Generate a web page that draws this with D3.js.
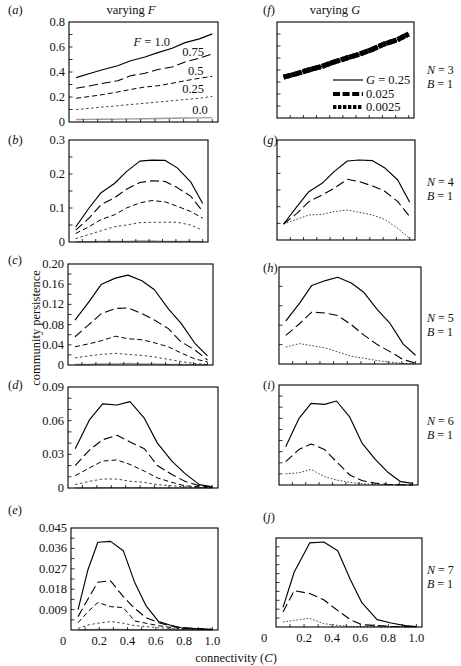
<!DOCTYPE html>
<html><head><meta charset="utf-8">
<script src="https://cdn.jsdelivr.net/npm/d3@7/dist/d3.min.js"></script>
<style>
body{margin:0;background:#fff}
text{font-family:"Liberation Serif","Times New Roman",serif;fill:#111}
</style>
</head><body>
<svg id="chart" width="461" height="666"></svg>
<script>
// ---------------- DATA ----------------
// connectivity values (C) at which persistence was computed
const cN3 = [0.05,0.15,0.24,0.34,0.43,0.53,0.62,0.72,0.81,0.91,1.0];
const cN4 = [0.05,0.15,0.24,0.34,0.43,0.53,0.62,0.72,0.81,0.91,1.0];
const cN5 = [0.05,0.15,0.24,0.34,0.43,0.53,0.62,0.72,0.81,0.91,1.0];
const cN6 = [0.05,0.15,0.24,0.34,0.43,0.53,0.62,0.72,0.81,0.91,1.0];
const cN7e = [0.05,0.12,0.19,0.28,0.37,0.45,0.53,0.62,0.70,0.78,1.0];
const cN7j = [0.05,0.13,0.24,0.34,0.44,0.53,0.61,0.72,0.82,0.92,1.0];

// left column: varying F  (F = 1.0, 0.75, 0.5, 0.25, 0.0)
const a_F100 = [0.355,0.39,0.42,0.45,0.49,0.52,0.555,0.59,0.635,0.665,0.705];
const a_F075 = [0.27,0.29,0.31,0.33,0.37,0.39,0.42,0.44,0.48,0.51,0.545];
const a_F050 = [0.19,0.205,0.22,0.24,0.26,0.28,0.29,0.31,0.33,0.35,0.365];
const a_F025 = [0.10,0.11,0.12,0.13,0.14,0.15,0.16,0.17,0.18,0.19,0.205];
const a_F000 = [0.02,0.021,0.022,0.023,0.025,0.026,0.028,0.03,0.032,0.033,0.035];

const b_F100 = [0.044,0.1,0.145,0.172,0.207,0.238,0.241,0.24,0.218,0.177,0.113];
const b_F075 = [0.035,0.07,0.11,0.13,0.155,0.175,0.18,0.178,0.16,0.135,0.09];
const b_F050 = [0.025,0.045,0.066,0.08,0.1,0.115,0.122,0.118,0.105,0.09,0.07];
const b_F025 = [0.01,0.022,0.033,0.045,0.05,0.057,0.058,0.058,0.058,0.05,0.035];
const b_F000 = [0.001,0.001,0.002,0.002,0.002,0.003,0.003,0.002,0.002,0.002,0.001];

const c_F100 = [0.089,0.125,0.16,0.172,0.178,0.167,0.149,0.111,0.083,0.043,0.018];
const c_F075 = [0.056,0.08,0.102,0.112,0.113,0.102,0.089,0.072,0.046,0.03,0.01];
const c_F050 = [0.036,0.042,0.048,0.057,0.052,0.05,0.044,0.036,0.024,0.012,0.006];
const c_F025 = [0.014,0.018,0.021,0.023,0.021,0.019,0.016,0.011,0.007,0.003,0.001];
const c_F000 = [0.001,0.001,0.002,0.002,0.003,0.002,0.002,0.001,0.001,0.0005,0.0002];

const d_F100 = [0.035,0.061,0.075,0.074,0.077,0.062,0.04,0.024,0.013,0.003,0.001];
const d_F075 = [0.02,0.034,0.043,0.047,0.041,0.035,0.02,0.012,0.006,0.002,0.001];
const d_F050 = [0.011,0.018,0.024,0.025,0.021,0.015,0.009,0.005,0.002,0.001,0.0005];
const d_F025 = [0.003,0.006,0.008,0.008,0.006,0.005,0.003,0.002,0.001,0.0005,0.0002];
const d_F000 = [0.0002,0.0002,0.0003,0.0003,0.0003,0.0003,0.0002,0.0002,0.0002,0.0001,0.0001];

const e_F100 = [0.009,0.0266,0.0387,0.0391,0.035,0.0211,0.0108,0.0037,0.0022,0.001,0.0002];
const e_F075 = [0.0059,0.0137,0.0211,0.0217,0.0147,0.0096,0.0055,0.0032,0.0019,0.001,0.0003];
const e_F050 = [0.0032,0.0081,0.0121,0.0103,0.0099,0.004,0.003,0.0019,0.0012,0.0007,0.0003];
const e_F025 = [0.0007,0.0022,0.003,0.0037,0.003,0.0019,0.0015,0.001,0.0007,0.0004,0.0001];
const e_F000 = [0.0002,0.0002,0.0003,0.0003,0.0003,0.0002,0.0002,0.0002,0.0001,0.0001,0.0001];

// right column: varying G  (G = 0.25, 0.025, 0.0025)
const f_G2500 = [0.34,0.37,0.40,0.43,0.465,0.50,0.53,0.57,0.615,0.65,0.70];
const f_G0250 = [0.34,0.37,0.40,0.43,0.465,0.50,0.53,0.57,0.615,0.65,0.70];
const f_G0025 = [0.34,0.37,0.40,0.43,0.465,0.50,0.53,0.57,0.615,0.65,0.70];

const g_G2500 = [0.048,0.1,0.145,0.17,0.205,0.237,0.24,0.238,0.217,0.18,0.113];
const g_G0250 = [0.048,0.08,0.115,0.135,0.155,0.182,0.175,0.162,0.147,0.115,0.07];
const g_G0025 = [0.048,0.062,0.075,0.077,0.085,0.09,0.083,0.075,0.062,0.035,0.005];

const h_G2500 = [0.089,0.125,0.162,0.172,0.179,0.167,0.148,0.112,0.085,0.041,0.018];
const h_G0250 = [0.059,0.083,0.107,0.105,0.1,0.081,0.06,0.04,0.026,0.009,0.002];
const h_G0025 = [0.035,0.042,0.038,0.033,0.025,0.016,0.012,0.007,0.004,0.001,0.0007];

const i_G2500 = [0.0345,0.06,0.0735,0.0726,0.0756,0.061,0.038,0.023,0.012,0.003,0.0015];
const i_G0250 = [0.021,0.032,0.037,0.032,0.021,0.009,0.004,0.0017,0.0007,0.0002,0.0001];
const i_G0025 = [0.01,0.011,0.014,0.0075,0.0045,0.0024,0.0012,0.0006,0.0003,0.0001,0.0001];

const j_G2500 = [0.0099,0.0278,0.0425,0.043,0.0386,0.0239,0.0125,0.0037,0.002,0.0007,0.0002];
const j_G0250 = [0.0076,0.0184,0.0169,0.0138,0.0083,0.0037,0.0012,0.0007,0.0003,0.0002,0.0002];
const j_G0025 = [0.0025,0.0034,0.0044,0.0017,0.0008,0.0003,0.0002,0.0001,0.0001,0.0001,0.0001];

// tick labels
const yTicksA = [0,0.2,0.4,0.6,0.8];          const yLabA = ["0","0.2","0.4","0.6","0.8"];
const yTicksB = [0,0.1,0.2,0.3];              const yLabB = ["0","0.1","0.2","0.3"];
const yTicksC = [0,0.04,0.08,0.12,0.16,0.20]; const yLabC = ["0","0.04","0.08","0.12","0.16","0.20"];
const yTicksD = [0,0.03,0.06,0.09];           const yLabD = ["0","0.03","0.06","0.09"];
const yTicksE = [0.009,0.018,0.027,0.036,0.045]; const yLabE = ["0.009","0.018","0.027","0.036","0.045"];
const xTicks = [0.2,0.4,0.6,0.8,1.0];          const xLab = ["0.2","0.4","0.6","0.8","1.0"];
const fLabels = ["F = 1.0","0.75","0.5","0.25","0.0"];
const gLabels = ["0.25","0.025","0.0025"];
const nValues = [3,4,5,6,7];

// ---------------- DRAWING ----------------
const svg = d3.select("#chart");
const leftStyles = [
  {w:1.15, dash:null, col:"#000"},
  {w:1.1, dash:"9,4", col:"#000"},
  {w:1.0, dash:"5,3", col:"#000"},
  {w:0.85, dash:"2.5,2.5", col:"#222"},
  {w:1.3, dash:null, col:"#9a9a9a"}
];
const rightStyles = [
  {w:1.15, dash:null, col:"#000"},
  {w:1.1, dash:"9,4", col:"#000"},
  {w:0.85, dash:"1.6,1.8", col:"#222"}
];
const thickStyles = [
  {w:1.2, dash:null, col:"#000"},
  {w:5, dash:"8,2", col:"#000"},
  {w:5, dash:"3,1", col:"#000"}
];

const panels = [
  {lab:"a", box:[69,22,218,122], yMax:0.8, minor:0.1, ticks:yTicksA, labs:yLabA, c:cN3, s:[a_F000,a_F025,a_F050,a_F075,a_F100], st:[4,3,2,1,0], styles:leftStyles},
  {lab:"b", box:[69,140,208,242], yMax:0.3, minor:0.05, ticks:yTicksB, labs:yLabB, c:cN4, s:[b_F000,b_F025,b_F050,b_F075,b_F100], st:[4,3,2,1,0], styles:leftStyles},
  {lab:"c", box:[68,264,213,365], yMax:0.2, minor:0.02, ticks:yTicksC, labs:yLabC, c:cN5, s:[c_F000,c_F025,c_F050,c_F075,c_F100], st:[4,3,2,1,0], styles:leftStyles},
  {lab:"d", box:[68,387,218,488], yMax:0.09, minor:0.01, ticks:yTicksD, labs:yLabD, c:cN6, s:[d_F000,d_F025,d_F050,d_F075,d_F100], st:[4,3,2,1,0], styles:leftStyles},
  {lab:"e", box:[71,528,218,630], yMax:0.045, minor:0.0045, ticks:yTicksE, labs:yLabE, c:cN7e, s:[e_F000,e_F025,e_F050,e_F075,e_F100], st:[4,3,2,1,0], styles:leftStyles, xAxis:true, corner:-8},
  {lab:"f", box:[277,22,414,118], yMax:0.8, minor:0.1, c:cN3, s:[f_G0250,f_G0025,f_G2500], st:[1,2,0], styles:thickStyles, n:3},
  {lab:"g", box:[277,140,415,240], yMax:0.3, minor:0.05, c:cN4, s:[g_G0025,g_G0250,g_G2500], st:[2,1,0], styles:rightStyles, n:4},
  {lab:"h", box:[279,267,421,364], yMax:0.2, minor:0.04, c:cN5, s:[h_G0025,h_G0250,h_G2500], st:[2,1,0], styles:rightStyles, n:5},
  {lab:"i", box:[279,385,418,485], yMax:0.09, minor:0.01, c:cN6, s:[i_G0025,i_G0250,i_G2500], st:[2,1,0], styles:rightStyles, n:6},
  {lab:"j", box:[276,538,422,627], yMax:0.045, minor:0.0045, c:cN7j, s:[j_G0025,j_G0250,j_G2500], st:[2,1,0], styles:rightStyles, n:7, xAxis:true, corner:-12}
];
const nLabelY = {3:[74,88], 4:[186,200], 5:[322,336], 6:[425,439], 7:[574,588]};

panels.forEach(p => {
  const [x0,y0,x1,y1] = p.box;
  const x = d3.scaleLinear().domain([0,1.04]).range([x0,x1]);
  const y = d3.scaleLinear().domain([0,p.yMax]).range([y1,y0]);
  const g = svg.append("g");

  // series
  const line = d3.line().x(d=>x(d[0])).y(d=>y(d[1]));
  p.s.forEach((vals,k) => {
    const sty = p.styles[p.st[k]];
    g.append("path").datum(p.c.map((c,i)=>[c,vals[i]]))
      .attr("d", line).attr("fill","none")
      .attr("stroke", sty.col).attr("stroke-width", sty.w)
      .attr("stroke-dasharray", sty.dash).attr("stroke-linejoin","round");
  });

  // frame
  g.append("rect").attr("x",x0).attr("y",y0).attr("width",x1-x0).attr("height",y1-y0)
    .attr("fill","none").attr("stroke","#000").attr("stroke-width",1.1);

  // minor/major y ticks (inside)
  const nMinor = Math.round(p.yMax/p.minor);
  d3.range(1,nMinor).forEach(i => {
    const yy = y(i*p.minor);
    g.append("line").attr("x1",x0).attr("x2",x0+3.5).attr("y1",yy).attr("y2",yy)
      .attr("stroke","#000").attr("stroke-width",0.8);
  });
  // bottom ticks
  d3.range(1,11).forEach(i => {
    const xx = x(i/10);
    g.append("line").attr("x1",xx).attr("x2",xx).attr("y1",y1).attr("y2",y1-3)
      .attr("stroke","#000").attr("stroke-width",0.8);
  });

  // y tick labels
  if (p.ticks) {
    p.ticks.forEach((t,i) => {
      g.append("text").attr("x",x0-4).attr("y",y(t)+4).attr("text-anchor","end")
        .attr("font-size",12.5).text(p.labs[i]);
    });
  }
  // x tick labels
  if (p.xAxis) {
    xTicks.forEach((t,i) => {
      g.append("text").attr("x",x(t)).attr("y",y1+15).attr("text-anchor","middle")
        .attr("font-size",12.5).text(xLab[i]);
    });
    g.append("text").attr("x",x0+p.corner).attr("y",y1+15).attr("text-anchor","middle")
      .attr("font-size",12.5).text("0");
  }

  // panel label
  const lx = p.n ? 263 : 8;
  const ly = {a:14,b:144,c:264,d:389,e:514,f:14,g:144,h:272,i:389,j:521}[p.lab];
  const pl = g.append("text").attr("x",lx).attr("y",ly).attr("font-size",12.5);
  pl.append("tspan").text("(");
  pl.append("tspan").attr("font-style","italic").text(p.lab);
  pl.append("tspan").text(")");

  // N / B labels
  if (p.n) {
    const [ny,by] = nLabelY[p.n];
    const t1 = g.append("text").attr("x",427).attr("y",ny).attr("font-size",12);
    t1.append("tspan").attr("font-style","italic").text("N");
    t1.append("tspan").text(" = " + p.n);
    const t2 = g.append("text").attr("x",427).attr("y",by).attr("font-size",12);
    t2.append("tspan").attr("font-style","italic").text("B");
    t2.append("tspan").text(" = 1");
  }

  // F labels in (a)
  if (p.lab === "a") {
    const pos = [[0.45,0.608],[0.79,0.528],[0.83,0.376],[0.79,0.232],[0.86,0.064]];
    fLabels.forEach((s,i) => {
      const t = g.append("text").attr("x",x(pos[i][0])).attr("y",y(pos[i][1])).attr("font-size",12.5);
      if (i===0) { t.append("tspan").attr("font-style","italic").text("F"); t.append("tspan").text(" = 1.0"); }
      else t.text(s);
    });
  }
  // legend in (f)
  if (p.lab === "f") {
    const rows = [80,94,107];
    gLabels.forEach((s,i) => {
      const sty = [{w:1.2,dash:null},{w:3.8,dash:"7,2.6"},{w:3.8,dash:"3.4,1.6"}][i];
      g.append("line").attr("x1",333).attr("x2",363).attr("y1",rows[i]).attr("y2",rows[i])
        .attr("stroke","#000").attr("stroke-width",sty.w).attr("stroke-dasharray",sty.dash);
      const t = g.append("text").attr("x",366).attr("y",rows[i]+4).attr("font-size",12.5);
      if (i===0) { t.append("tspan").attr("font-style","italic").text("G"); t.append("tspan").text(" = 0.25"); }
      else t.text(s);
    });
  }
});

// column titles
const t1 = svg.append("text").attr("x",131).attr("y",14).attr("text-anchor","middle").attr("font-size",12.5);
t1.append("tspan").text("varying ");
t1.append("tspan").attr("font-style","italic").text("F");
const t2 = svg.append("text").attr("x",335).attr("y",14).attr("text-anchor","middle").attr("font-size",12.5);
t2.append("tspan").text("varying ");
t2.append("tspan").attr("font-style","italic").text("G");

// axis titles
svg.append("text").attr("transform","translate(40,328) rotate(-90)").attr("text-anchor","middle")
  .attr("font-size",12.5).text("community persistence");
const xt = svg.append("text").attr("x",236).attr("y",662).attr("text-anchor","middle").attr("font-size",12.5);
xt.append("tspan").text("connectivity (");
xt.append("tspan").attr("font-style","italic").text("C");
xt.append("tspan").text(")");
</script>
</body></html>
